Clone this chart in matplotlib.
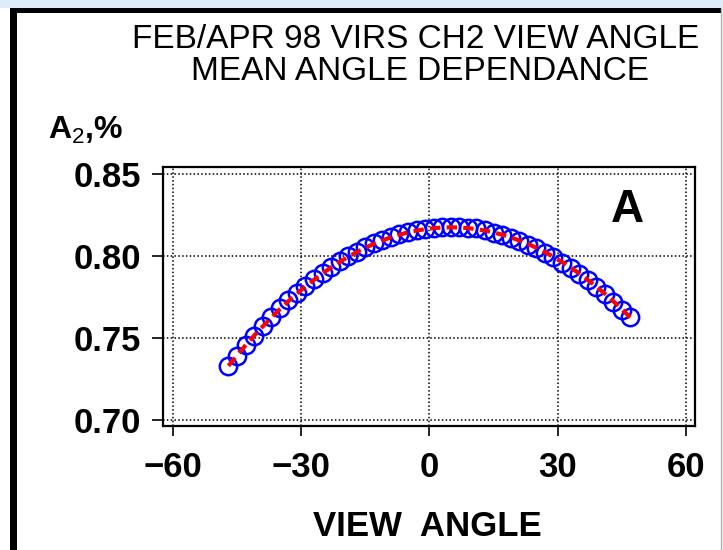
import matplotlib
matplotlib.use("Agg")
import matplotlib.pyplot as plt
from matplotlib.patches import Rectangle
from matplotlib.lines import Line2D

plt.rcParams["font.family"] = ["Liberation Sans", "DejaVu Sans"]
plt.rcParams["mathtext.fontset"] = "custom"
plt.rcParams["mathtext.rm"] = "Liberation Sans"
plt.rcParams["mathtext.bf"] = "Liberation Sans:bold"

# view angle (deg)
view_angle = [-47, -45, -43, -41, -39, -37, -35, -33, -31, -29, -27, -25,
              -23, -21, -19, -17, -15, -13, -11, -9, -7, -5, -3, -1,
              1, 3, 5, 7, 9, 11, 13, 15, 17, 19, 21, 23, 25, 27, 29, 31,
              33, 35, 37, 39, 41, 43, 45, 47]

# mean A2 measured
a2_mean = [0.7332, 0.7390, 0.7458, 0.7510, 0.7574, 0.7630, 0.7680, 0.7731,
           0.7772, 0.7820, 0.7858, 0.7898, 0.7936, 0.7968, 0.8001, 0.8027,
           0.8055, 0.8079, 0.8098, 0.8118, 0.8134, 0.8147, 0.8160, 0.8165,
           0.8171, 0.8178, 0.8176, 0.8177, 0.8172, 0.8168, 0.8156, 0.8142,
           0.8128, 0.8110, 0.8093, 0.8070, 0.8048, 0.8020, 0.7992, 0.7960,
           0.7928, 0.7890, 0.7852, 0.7810, 0.7767, 0.7722, 0.7672, 0.7628]

# fitted curve
a2_fit = [0.7330, 0.7394, 0.7455, 0.7514, 0.7570, 0.7624, 0.7675, 0.7724,
          0.7770, 0.7814, 0.7855, 0.7894, 0.7930, 0.7964, 0.7995, 0.8024,
          0.8050, 0.8074, 0.8095, 0.8114, 0.8130, 0.8144, 0.8155, 0.8164,
          0.8170, 0.8174, 0.8175, 0.8174, 0.8170, 0.8164, 0.8155, 0.8144,
          0.8130, 0.8114, 0.8095, 0.8074, 0.8050, 0.8024, 0.7995, 0.7964,
          0.7930, 0.7894, 0.7855, 0.7814, 0.7770, 0.7724, 0.7675, 0.7624]

x_ticks = [-60, -30, 0, 30, 60]
y_ticks = [0.70, 0.75, 0.80, 0.85]

W, H = 723, 550
fig = plt.figure(figsize=(W / 100, H / 100), dpi=100)
fig.patch.set_facecolor("white")

# page decoration: light blue strip, black frame
fig.add_artist(Rectangle((0, 1 - 8 / H), 1, 8 / H, transform=fig.transFigure,
                         facecolor="#dcecf8", edgecolor="none"))
fig.add_artist(Rectangle((10 / W, 1 - 13 / H), 711 / W, 5 / H, transform=fig.transFigure,
                         facecolor="black", edgecolor="none"))
fig.add_artist(Rectangle((10 / W, 0), 7 / W, 1 - 8 / H, transform=fig.transFigure,
                         facecolor="black", edgecolor="none"))
fig.add_artist(Line2D([721 / W, 721 / W], [0, 1 - 8 / H], transform=fig.transFigure,
                      color="#b0b0b0", lw=1))

ax = fig.add_axes([163 / W, 124 / H, 532 / W, 259 / H])
ax.plot(view_angle, a2_mean, "o", mfc="none", mec="#0000ff", ms=12.5, mew=1.8)
ax.plot(view_angle, a2_fit, color="#ff0000", lw=3, dashes=(2.5, 1.5))

ax.set_xlim(-62.3, 62.1)
ax.set_ylim(0.6963, 0.8543)
ax.set_xticks(x_ticks)
ax.set_xticklabels(["\u221260", "\u221230", "0", "30", "60"])
ax.set_yticks(y_ticks)
ax.set_yticklabels(["0.70", "0.75", "0.80", "0.85"])
ax.grid(True, color="black", linestyle=(0, (1, 1.5)), linewidth=1.1)
for s in ax.spines.values():
    s.set_linewidth(1.6)
ax.tick_params(axis="x", direction="out", length=7, width=1.2, pad=11,
               labelsize=25)
ax.tick_params(axis="y", direction="out", length=8, width=1.2, pad=8,
               labelsize=25)
for lab in ax.get_xticklabels() + ax.get_yticklabels():
    lab.set_fontweight("bold")

ax.text(46.4, 0.828, "A", fontsize=33, fontweight="bold", ha="center", va="center")

fig.text(416 / W, 1 - 39 / H, "FEB/APR 98 VIRS CH2 VIEW ANGLE", fontsize=24,
         ha="center", va="center")
fig.text(420 / W, 1 - 72 / H, "MEAN ANGLE DEPENDANCE", fontsize=24,
         ha="center", va="center")
fig.text(48 / W, 1 - 130 / H, r"A$_{\mathrm{2}}$,%", fontsize=23, fontweight="bold",
         ha="left", va="center")
fig.text(427 / W, 1 - 526 / H, "VIEW  ANGLE", fontsize=25, fontweight="bold",
         ha="center", va="center")

fig.savefig("out.png", dpi=100)
